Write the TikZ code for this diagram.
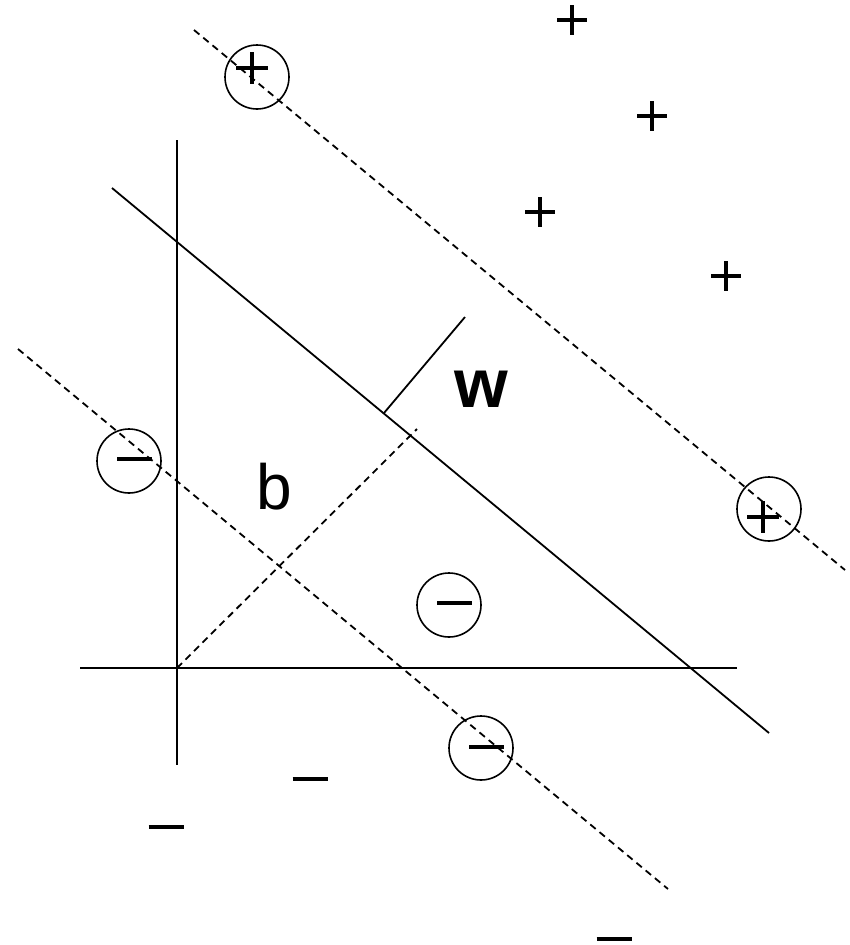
\documentclass[tikz,border=0pt]{standalone}
\usepackage{fontspec}
\setmainfont{Liberation Sans}
\begin{document}
\begin{tikzpicture}[x=1pt,y=-1pt,
  ln/.style={line width=1.8pt},
  dln/.style={line width=1.8pt,dash pattern=on 7pt off 5pt},
  ring/.style={circle,draw,line width=1.6pt,minimum size=64pt,inner sep=0pt},
  sgn/.style={line width=3.6pt}]
\useasboundingbox (0,0) rectangle (849,945);
% axes
\coordinate (ya) at (177,140); \coordinate (yb) at (177,765);
\coordinate (xa) at (80,668); \coordinate (xb) at (737,668);
\draw[ln] (ya) -- (yb);
\draw[ln] (xa) -- (xb);
% separating line and margins
\coordinate (h1) at (112,188); \coordinate (h2) at (769,733);
\draw[ln] (h1) -- (h2);
\coordinate (u1) at (194,30); \coordinate (u2) at (845,570);
\draw[dln] (u1) -- (u2);
\coordinate (l1) at (18,349); \coordinate (l2) at (668,889);
\draw[dln] (l1) -- (l2);
% w vector
\coordinate (w1) at (384,413); \coordinate (w2) at (465,317);
\draw[ln] (w1) -- (w2);
% b offset
\coordinate (o) at (177,668); \coordinate (bp) at (417,429);
\draw[dln] (o) -- (bp);
% labels
\node (wl) at (481,389) {\fontsize{69}{69}\selectfont\bfseries w};
\node (bl) at (274,487) {\fontsize{64}{64}\selectfont b};
% circled points
\node[ring] (c1) at (257,77) {};
\node[ring] (c2) at (129,461) {};
\node[ring] (c3) at (769,509) {};
\node[ring] (c4) at (449,605) {};
\node[ring] (c5) at (481,748) {};
\draw[sgn] (236,68) -- (268,68) (252,52) -- (252,84);
\draw[sgn] (747,517) -- (779,517) (763,501) -- (763,533);
\draw[sgn] (117,459) -- (152,459);
\draw[sgn] (437,603) -- (472,603);
\draw[sgn] (469,747) -- (504,747);
% plain plus signs
\foreach \x/\y in {572/20, 652/116, 540/212, 726/276}
  \draw[sgn] (\x-15,\y) -- (\x+15,\y) (\x,\y-15) -- (\x,\y+15);
% plain minus signs
\foreach \x/\y in {166/827, 310/779, 614/939}
  \draw[sgn] (\x-17.5,\y) -- (\x+17.5,\y);
\end{tikzpicture}
\end{document}
